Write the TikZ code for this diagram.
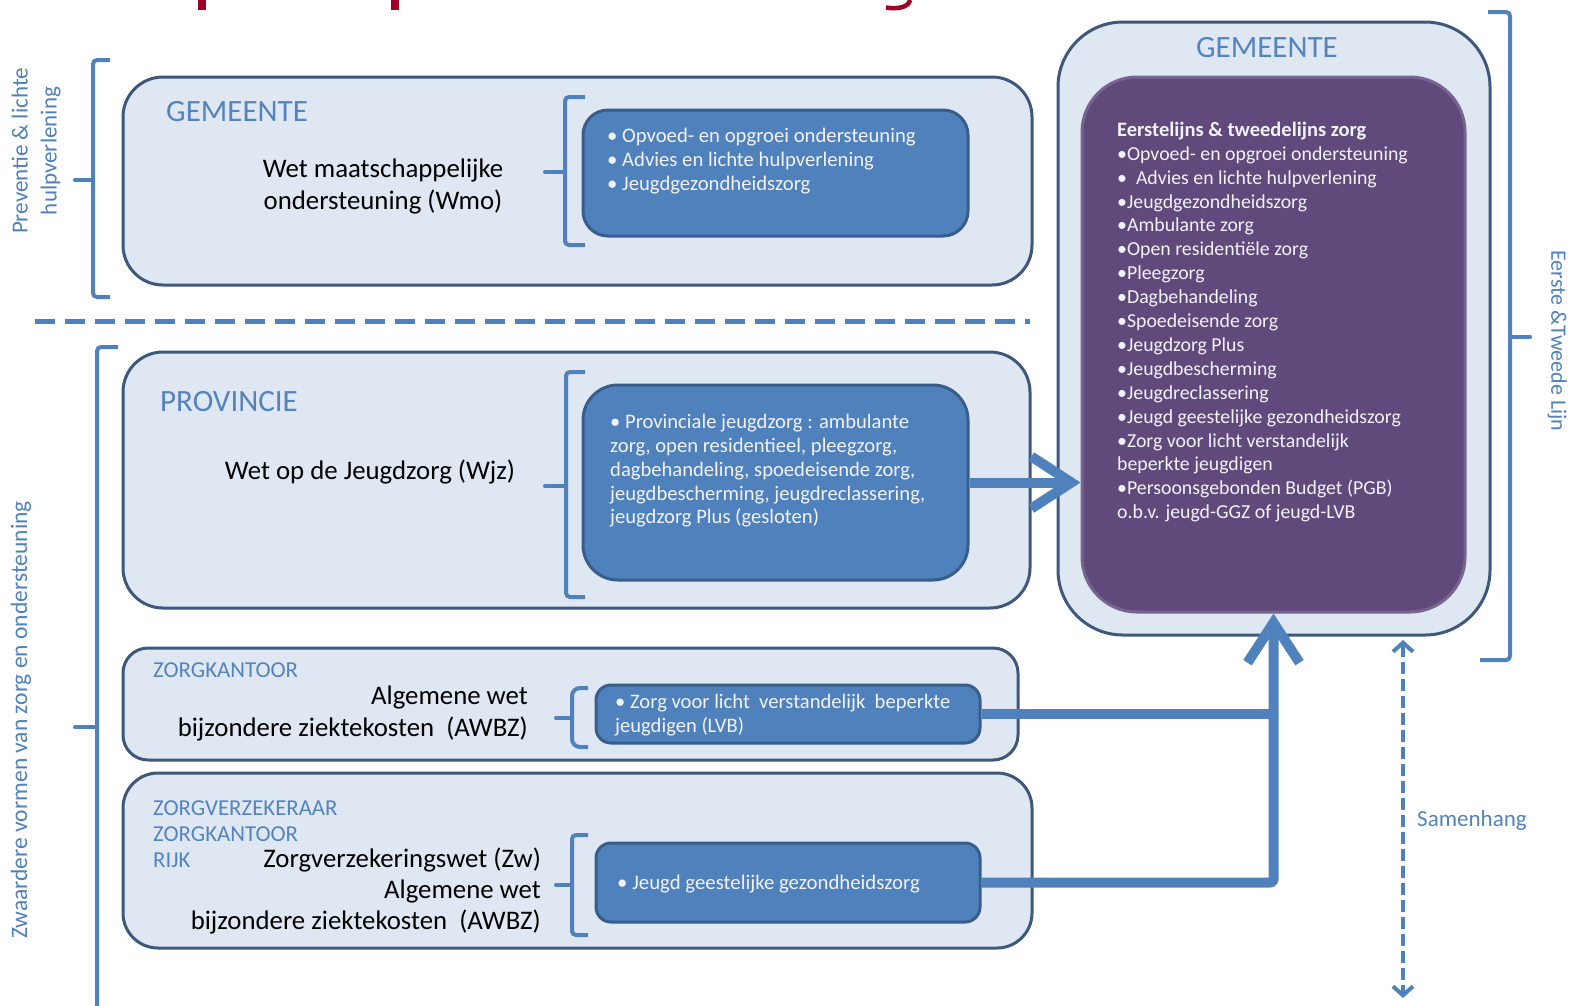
\documentclass[tikz,border=0pt]{standalone}
\usepackage{fontspec}
\setmainfont{Carlito}
\usetikzlibrary{arrows.meta}
\definecolor{acc}{RGB}{79,129,189}
\definecolor{accdark}{RGB}{56,93,138}
\definecolor{outerfill}{RGB}{222,231,242}
\definecolor{outerline}{RGB}{62,88,124}
\definecolor{purp}{RGB}{96,74,123}
\definecolor{lbl}{RGB}{84,132,190}
\definecolor{titlered}{RGB}{160,0,40}
\definecolor{boxtext}{RGB}{242,242,250}
\begin{document}
\begin{tikzpicture}[x=1pt,y=-1pt,
  outerbox/.style={draw=outerline, fill=outerfill, line width=3pt, inner sep=0pt},
  innerbox/.style={draw=accdark, fill=acc, line width=3pt, inner sep=0pt},
  brk/.style={draw=acc, line width=4pt, rounded corners=4pt},
  tick/.style={draw=acc, line width=4pt, line cap=round},
  bigline/.style={draw=acc, line width=10pt, line join=round, rounded corners=3pt},
  bigtip/.style={-{Straight Barb[length=40pt,width=52pt]}},
  listtext/.style={text=boxtext, align=left, inner sep=0pt},
  lawtext/.style={text=black, inner sep=0pt, font=\fontsize{26.8}{32}\selectfont},
  lbltext/.style={text=lbl, inner sep=0pt},
  sidetext/.style={text=acc, inner sep=0pt, align=center}
]
\useasboundingbox (0,0) rectangle (1571,1005);
\fill[white] (0,0) rectangle (1571,1005);

% cut-off title fragments
\fill[titlered] (198,0) rectangle (206,10);
\fill[titlered] (391,0) rectangle (399,10);
\draw[titlered, line width=4.5pt] (886,7.5) .. controls (898,9.5) and (909,7) .. (910,0);

% outer boxes
\node[outerbox, rounded corners=40pt, minimum width=909pt, minimum height=208pt] (gem1) at (577.5,181) {};
\node[outerbox, rounded corners=40pt, minimum width=907pt, minimum height=256pt] (prov) at (576.5,480) {};
\node[outerbox, rounded corners=25pt, minimum width=895pt, minimum height=112pt] (zk) at (570.5,704) {};
\node[outerbox, rounded corners=35pt, minimum width=909pt, minimum height=175pt] (zv) at (577.5,860.5) {};
\node[outerbox, rounded corners=65pt, minimum width=432pt, minimum height=613pt] (gem2) at (1274,328.5) {};
\node[fill=purp, draw=purp!85!white, line width=3pt, rounded corners=55pt, inner sep=0pt, minimum width=383pt, minimum height=535pt] (purple) at (1273.5,344.5) {};

% inner boxes
\node[innerbox, rounded corners=25pt, minimum width=385pt, minimum height=126pt] (wmobox) at (775.5,173) {};
\node[innerbox, rounded corners=35pt, minimum width=385pt, minimum height=195pt] (wjzbox) at (775.5,482.5) {};
\node[innerbox, rounded corners=15pt, minimum width=384pt, minimum height=58pt] (lvbbox) at (788,714) {};
\node[innerbox, rounded corners=15pt, minimum width=384pt, minimum height=79pt] (ggzbox) at (788,882.5) {};

% divider
\coordinate (d1) at (35,321);
\coordinate (d2) at (1030,321);
\draw[acc, line width=5pt, dash pattern=on 20pt off 10pt] (d1) -- (d2);

% brackets
\draw[brk] (110,60) -- (93,60) -- (93,297) -- (110,297);
\draw[tick] (93,180) -- (75,180);
\draw[brk] (118,347) -- (97,347) -- (97,1012);
\draw[tick] (97,727) -- (75,727);
\draw[brk] (585,97) -- (565,97) -- (565,245) -- (585,245);
\draw[tick] (565,172) -- (545,172);
\draw[brk] (585,372) -- (566,372) -- (566,597) -- (585,597);
\draw[tick] (566,486) -- (545,486);
\draw[brk, rounded corners=8pt] (588,688) -- (572,688) -- (572,747) -- (588,747);
\draw[tick] (572,718) -- (556,718);
\draw[brk] (588,835) -- (572,835) -- (572,935) -- (588,935);
\draw[tick] (572,885) -- (556,885);
\draw[brk] (1488,12) -- (1510,12) -- (1510,660) -- (1480,660);
\draw[tick] (1510,337) -- (1530,337);

% side labels
\node[sidetext, rotate=90, font=\fontsize{23}{29}\selectfont] (prevlbl) at (36,151) {Preventie \& lichte\\hulpverlening};
\node[sidetext, rotate=90, font=\fontsize{23.5}{24}\selectfont] (zwlbl) at (21,720) {Zwaardere vormen van zorg en ondersteuning};
\node[sidetext, rotate=-90, font=\fontsize{22}{24}\selectfont] (eerstelbl) at (1557,341) {Eerste \&Tweede Lijn};

% GEMEENTE (top)
\node[lbltext, anchor=base west, font=\fontsize{31}{32}\selectfont] (gem1lbl) at (166,121) {GEMEENTE};
\node[lawtext, align=center] (wmolaw) at (383,186) {Wet maatschappelijke\\ondersteuning (Wmo)};
\node[listtext, anchor=west, font=\fontsize{20.7}{24}\selectfont] (wmolist) at (607,161) {• Opvoed- en opgroei ondersteuning\\• Advies en lichte hulpverlening\\• Jeugdgezondheidszorg};

% PROVINCIE
\node[lbltext, anchor=base west, font=\fontsize{31}{32}\selectfont] (provlbl) at (160,411) {PROVINCIE};
\node[lawtext] (wjzlaw) at (370,472) {Wet op de Jeugdzorg (Wjz)};
\node[listtext, anchor=west, font=\fontsize{20.6}{23.8}\selectfont] (wjzlist) at (610,471) {• Provinciale jeugdzorg : ambulante\\zorg, open residentieel, pleegzorg,\\dagbehandeling, spoedeisende zorg,\\jeugdbescherming, jeugdreclassering,\\jeugdzorg Plus (gesloten)};

% ZORGKANTOOR
\node[lbltext, anchor=base west, font=\fontsize{22.8}{26}\selectfont] (zklbl) at (153,677) {ZORGKANTOOR};
\node[lawtext, align=right, anchor=east] (zklaw) at (528,713) {Algemene wet\\bijzondere ziektekosten~ (AWBZ)};
\node[listtext, anchor=west, font=\fontsize{20.6}{24}\selectfont] (lvblist) at (615,715) {• Zorg voor licht~ verstandelijk~ beperkte\\jeugdigen (LVB)};

% ZORGVERZEKERAAR
\node[lbltext, anchor=west, align=left, font=\fontsize{22.8}{26}\selectfont] (zvlbl) at (153,834) {ZORGVERZEKERAAR\\ZORGKANTOOR\\RIJK};
\node[lawtext, align=right, anchor=east, font=\fontsize{26.8}{31}\selectfont] (zvlaw) at (541,891) {Zorgverzekeringswet (Zw)\\Algemene wet\\bijzondere ziektekosten~ (AWBZ)};
\node[listtext, anchor=west, font=\fontsize{20.8}{24}\selectfont] (ggzlist) at (617,884) {• Jeugd geestelijke gezondheidszorg};

% GEMEENTE (right)
\node[lbltext, font=\fontsize{31}{32}\selectfont] (gem2lbl) at (1267,48) {GEMEENTE};
\node[listtext, anchor=west, font=\fontsize{19.8}{23.9}\selectfont] (plist) at (1117,322) {{\fontsize{20.5}{23.9}\selectfont\bfseries Eerstelijns \& tweedelijns zorg}\\•Opvoed- en opgroei ondersteuning\\•~ Advies en lichte hulpverlening\\•Jeugdgezondheidszorg\\•Ambulante zorg\\•Open residentiële zorg\\•Pleegzorg\\•Dagbehandeling\\•Spoedeisende zorg\\•Jeugdzorg Plus\\•Jeugdbescherming\\•Jeugdreclassering\\•Jeugd geestelijke gezondheidszorg\\•Zorg voor licht verstandelijk\\beperkte jeugdigen\\•Persoonsgebonden Budget (PGB)\\o.b.v. jeugd-GGZ of jeugd-LVB};

% Samenhang
\coordinate (sh1) at (1403,640);
\coordinate (sh2) at (1403,998);
\draw[acc, line width=4pt, dash pattern=on 12pt off 5pt, {Straight Barb[length=9pt,width=20pt]}-{Straight Barb[length=9pt,width=20pt]}] (sh1) -- (sh2);
\node[text=lbl, anchor=west, inner sep=0pt, font=\fontsize{23}{24}\selectfont] (shlbl) at (1417,820) {Samenhang};

% connectors
\draw[bigline, bigtip] (wjzbox.east) -- (wjzbox.east -| purple.west);
\draw[bigline] (lvbbox.east) -- (lvbbox.east -| purple.south);
\draw[bigline, bigtip] (ggzbox.east) -| (purple.south);
\end{tikzpicture}
\end{document}
